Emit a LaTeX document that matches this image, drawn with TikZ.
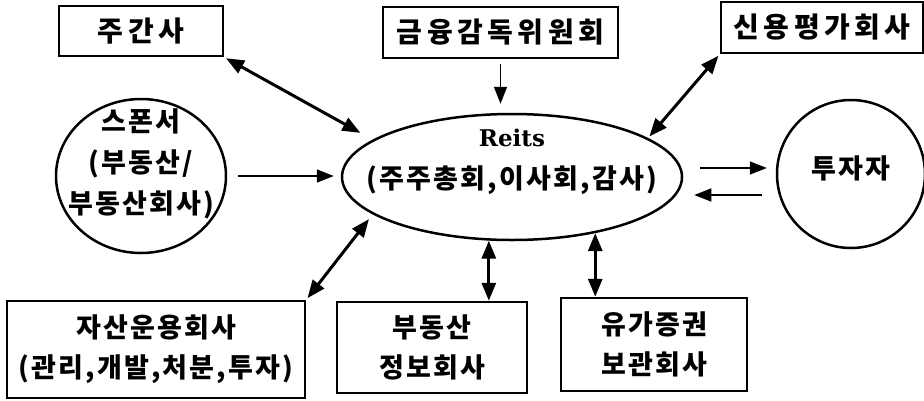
\documentclass[tikz,border=0pt]{standalone}
\usepackage{fontspec}
\usepackage{tikz}
\usetikzlibrary{shapes,calc,positioning,arrows.meta}
\newfontfamily\kr[LetterSpace=8]{Noto Sans CJK KR}
\newfontfamily\krwide[LetterSpace=16]{Noto Sans CJK KR}
\newfontfamily\rt{DejaVu Serif}

\begin{document}
\begin{tikzpicture}
     [ x=1pt, y=-1pt,
       box/.style={draw, line width=2.5pt, inner sep=0pt, align=center,
         font=\kr\bfseries\fontsize{27}{40}\selectfont},
       topbox/.style={box, font=\krwide\bfseries\fontsize{28}{34}\selectfont},
       ring/.style={draw, ellipse, line width=2.5pt, inner sep=0pt},
       txt/.style={align=center, font=\kr\bfseries\fontsize{27}{41}\selectfont},
       both/.style={{Triangle[length=18pt,width=14pt]}-{Triangle[length=18pt,width=14pt]}, line width=3pt},
       one/.style={-{Triangle[length=17pt,width=13pt]}, line width=1.5pt}]
   \useasboundingbox (0,0) rectangle (924,400);
   % top row
   \node (ju) [topbox, minimum width=164pt, minimum height=50pt] at (141,31) {주간사};
   \node (fsc) [topbox, minimum width=235pt, minimum height=51pt] at (500.5,32.5) {금융감독위원회};
   \node (credit) [topbox, minimum width=202pt, minimum height=51pt] at (822,27.5) {신용평가회사};
   % middle row
   \node (sponsor) [ring, minimum width=170pt, minimum height=154pt] at (141,176) {};
   \node (sponsortxt) [txt] at ([yshift=12pt]sponsor.center) {스폰서\\(부동산/\\부동산회사)};
   \node (reits) [ring, minimum width=340pt, minimum height=126pt] at (512,177) {};
   \node (reitsname) [font=\rt\bfseries\fontsize{23}{28}\selectfont] at ([yshift=39pt]reits.center) {Reits};
   \node (reitsrole) [txt] at ([yshift=-3pt]reits.center) {(주주총회,이사회,감사)};
   \node (investor) [ring, circle, minimum size=148pt] at (851,174) {};
   \node (investortxt) [txt] at ([yshift=6pt]investor.center) {투자자};
   % bottom row
   \node (asset) [box, minimum width=298pt, minimum height=97pt] at (156,349.5) {자산운용회사\\(관리,개발,처분,투자)};
   \node (realty) [box, minimum width=190pt, minimum height=91pt] at (432,347.5) {부동산\\정보회사};
   \node (custody) [box, minimum width=186pt, minimum height=93pt] at (654,344.5) {유가증권\\보관회사};

   \draw [one, shorten <=5pt, shorten >=9pt] (fsc.south) -- (fsc.south |- reits.north);
   \draw [both, shorten <=2pt, shorten >=14pt] (ju.south east) -- (reits.165);
   \draw [both, shorten <=2pt, shorten >=2pt] (credit.south west) -- (reits.16);
   \draw [both, shorten <=2pt, shorten >=6pt] (asset.north east) -- (reits.195);
   \draw [both] (reits.250) -- (reits.250 |- realty.north);
   \draw [both] (reits.326) -- (reits.326 |- custody.north);
   \draw [one, shorten <=11pt, shorten >=7pt] (sponsor.east) -- (sponsor.east -| reits.west);
   \draw [one, shorten <=17pt, shorten >=9pt] ([yshift=9pt]reits.east) -- ([yshift=9pt]reits.east -| investor.west);
   \draw [one, shorten <=14pt, shorten >=11pt] ([yshift=-18pt]reits.east -| investor.west) -- ([yshift=-18pt]reits.east);
\end{tikzpicture}
\end{document}
